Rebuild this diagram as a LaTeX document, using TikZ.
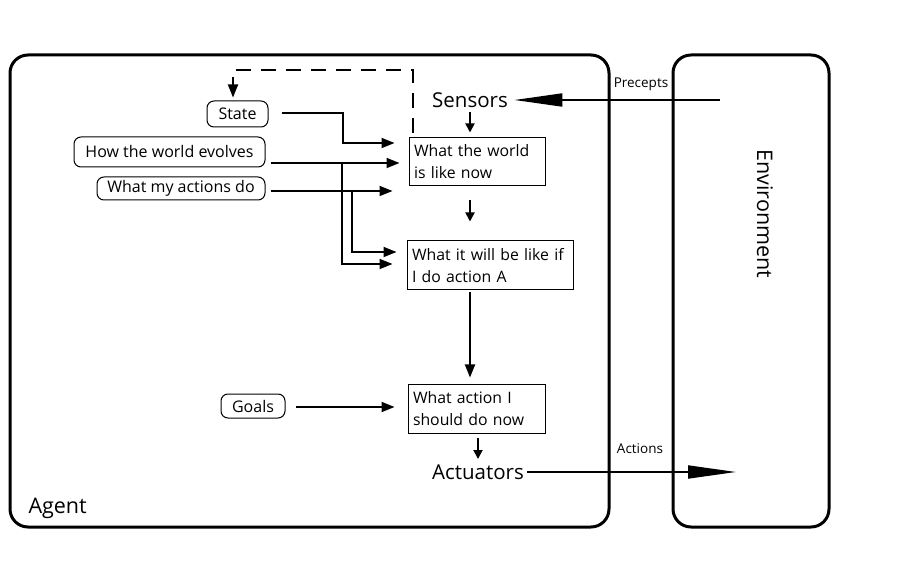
\documentclass[tikz,border=0pt]{standalone}
\usepackage{fontspec}
\setmainfont{Open Sans}
\usetikzlibrary{arrows.meta}
\begin{document}
\begin{tikzpicture}[x=1pt,y=-1pt,
  conn/.style={line width=1.8pt,-{Triangle[length=13pt,width=10pt]}},
  small/.style={line width=1.8pt,-{Triangle[length=9pt,width=9pt]}},
  big/.style={line width=1.8pt,-{Triangle[length=48pt,width=13pt]}},
  dashline/.style={line width=2.4pt,dash pattern=on 15pt off 10pt},
  frame/.style={line width=3pt,rounded corners=18pt},
  box/.style={draw,line width=1pt,align=left,inner xsep=5pt,inner ysep=2pt,font=\fontsize{15.8}{22}\selectfont},
  lab/.style={draw,rounded corners=7pt,line width=1pt,inner sep=0pt,font=\fontsize{16}{18}\selectfont},
  big text/.style={font=\fontsize{20.5}{22}\selectfont},
  tiny text/.style={font=\fontsize{13.5}{15}\selectfont}
]
\useasboundingbox (0,0) rectangle (900,577);

% frames
\draw[frame] (10,55) rectangle (609,527);
\draw[frame] (673,55) rectangle (829,527);
\node[anchor=west,font=\fontsize{21.5}{24}\selectfont] (agent) at (25,508) {Agent};
\node[rotate=-90,font=\fontsize{21.5}{24}\selectfont] (env) at (765,214) {Environment};
\node[tiny text] (prec) at (641,84) {Precepts};
\node[tiny text] (actl) at (640,449) {Actions};

% main column
\node[big text] (sens) at (470,100) {Sensors};
\node[big text] (act) at (478,472) {Actuators};
\node[box,minimum width=136pt,minimum height=48pt,text width=126pt] (b1) at (477,162) {What the world\\is like now};
\node[box,minimum width=166pt,minimum height=49pt,text width=156pt] (b2) at (490,265.5) {What it will be like if\\I do action A};
\node[box,minimum width=137pt,minimum height=48pt,text width=127pt] (b3) at (476.5,409) {What action I\\should do now};

% left labels
\node[lab,minimum width=61pt,minimum height=26pt] (state) at (237.5,114) {State};
\node[lab,minimum width=191pt,minimum height=30pt] (evol) at (169.5,152) {How the world evolves};
\node[lab,minimum width=168pt,minimum height=23pt] (acts) at (181,188.5) {What my actions do};
\node[lab,minimum width=64pt,minimum height=24pt] (goals) at (253,406) {Goals};

% environment arrows
\coordinate (penv) at (720,100);
\coordinate (aenv) at (736,472);
\draw[big] (penv) -- ([xshift=3pt]sens.east);
\draw[big] (act.east) -- (aenv);

% vertical flow
\draw[small,shorten <=1pt,shorten >=5pt] (sens.south) -- (b1.north -| sens.south);
\draw[small,shorten <=14pt,shorten >=19pt] (b1.south -| sens.south) -- (b2.north -| sens.south);
\draw[conn,shorten <=2pt,shorten >=7pt] (b2.south -| sens.south) -- (b3.north -| sens.south);
\draw[small,shorten <=4pt,shorten >=2pt] (b3.south -| act.north) -- (act.north);

% dashed feedback
\coordinate (d0) at (413,133);
\draw[dashline] (d0) -- (413,70) -- (233,70) -- (233,84);
\draw[conn] (233,80) -- ([xshift=-4.5pt,yshift=3pt]state.north);

% model inputs
\draw[conn] ([xshift=13pt,yshift=1pt]state.east) -- (343,113) |- ([xshift=-14pt,yshift=19pt]b1.west);
\draw[conn] ([xshift=5pt,yshift=-11pt]evol.east) -- ([xshift=-9pt,yshift=-1pt]b1.west);
\coordinate (ev) at (342,163);
\draw[conn] (ev) |- ([xshift=-14pt,yshift=1.5pt]b2.west);
\draw[conn] ([xshift=5pt,yshift=-2.5pt]acts.east) -- ([xshift=-16pt,yshift=-29pt]b1.west);
\coordinate (ac) at (352,191);
\draw[conn] (ac) |- ([xshift=-10pt,yshift=13.5pt]b2.west);
\draw[conn] ([xshift=10pt,yshift=-1pt]goals.east) -- ([xshift=-13pt,yshift=2pt]b3.west);
\end{tikzpicture}
\end{document}
